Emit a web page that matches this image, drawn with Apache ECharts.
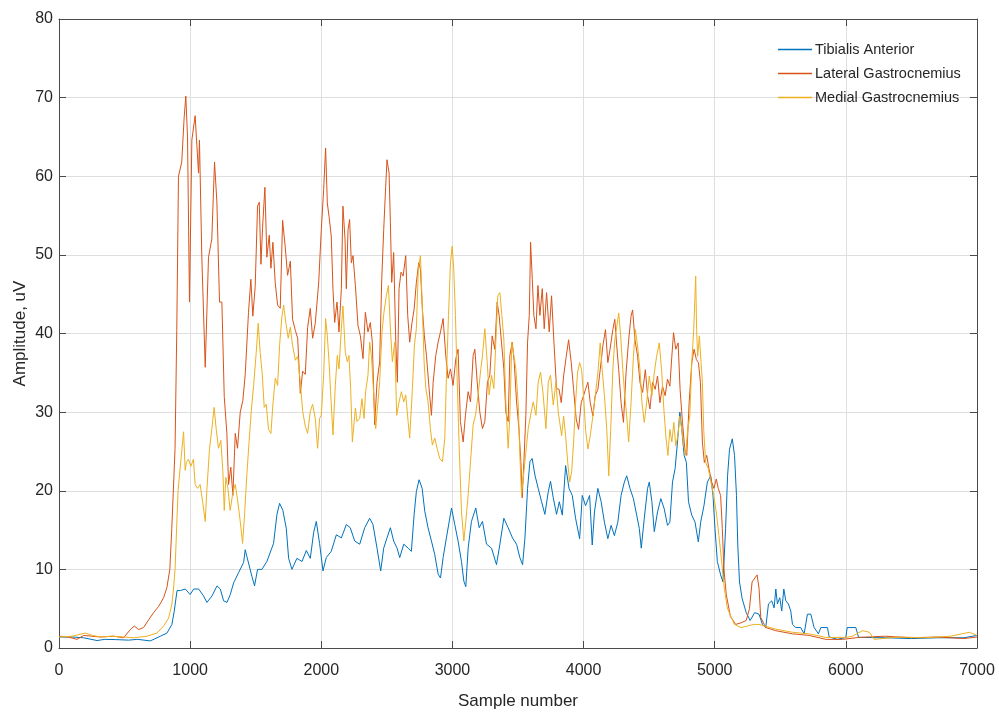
<!DOCTYPE html>
<html>
<head>
<meta charset="utf-8">
<script src="https://cdn.jsdelivr.net/npm/echarts@6/dist/echarts.min.js"></script>
<style>
  html, body { margin: 0; padding: 0; background: #fff; }
  #chart { width: 999px; height: 715px; }
</style>
</head>
<body>
<div id="chart"></div>
<script>
// EMG envelopes of three lower-leg muscles, sampled by sample index
const seriesNames = ['Tibialis Anterior', 'Lateral Gastrocnemius', 'Medial Gastrocnemius'];
const xTicks = [0, 1000, 2000, 3000, 4000, 5000, 6000, 7000];
const yTicks = [0, 10, 20, 30, 40, 50, 60, 70, 80];

// Tibialis Anterior: [sample, amplitude]
const tibialisAnterior = [[0,1.4],[100,1.4],[187,1.3],[290,0.95],[350,1.1],[430,1.07],[530,1.0],[600,1.1],[696,0.9],[773,1.5],[823,1.9],[861,3],[879,4.7],[900,7.3],[925,7.3],[963,7.5],[1000,6.8],[1027,7.5],[1065,7.5],[1103,6.6],[1128,5.8],[1166,6.6],[1205,7.9],[1230,7.5],[1255,6],[1281,5.8],[1306,6.8],[1332,8.3],[1370,9.6],[1408,10.9],[1420,12.5],[1433,11.6],[1471,9.1],[1491,7.9],[1514,10],[1547,10],[1585,11],[1636,13.3],[1662,17],[1682,18.4],[1707,17.5],[1733,15.2],[1751,11.4],[1776,10],[1814,11.4],[1853,11],[1886,12.4],[1916,11.4],[1942,14.7],[1962,16.1],[1987,13.3],[2013,9.8],[2038,11.5],[2076,12.3],[2115,14.4],[2153,14],[2191,15.7],[2221,15.3],[2255,13.6],[2293,13.2],[2331,15.3],[2369,16.5],[2394,15.7],[2425,12.7],[2453,9.8],[2476,12.7],[2501,14],[2527,15.3],[2552,13.6],[2578,12.7],[2598,11.5],[2629,13.2],[2662,12.7],[2687,12.3],[2708,17],[2725,19.9],[2746,21.4],[2769,20.3],[2789,17.4],[2814,15.3],[2840,13.6],[2865,11.9],[2891,9.4],[2909,8.9],[2929,11.5],[2954,14],[2993,17.8],[3018,15.7],[3043,13.6],[3069,11],[3087,8.5],[3102,7.8],[3120,12.7],[3145,16.1],[3178,17.8],[3204,15.3],[3229,16.1],[3260,13.2],[3298,12.7],[3336,10.6],[3362,13.2],[3392,16.5],[3425,15.3],[3458,14],[3489,13.2],[3514,11.5],[3535,10.6],[3553,14],[3573,20.3],[3591,23.7],[3608,24.1],[3629,22],[3654,20.3],[3680,18.6],[3705,17],[3731,19.9],[3748,21.2],[3769,19.1],[3794,17],[3815,18.6],[3838,16.9],[3863,23.2],[3889,20.3],[3914,19.4],[3939,16.5],[3970,13.9],[3990,19.4],[4015,18.1],[4046,19.4],[4066,13.1],[4083,17.3],[4109,20.3],[4134,18.6],[4159,16],[4185,13.9],[4210,15.6],[4235,14.3],[4261,16],[4286,19.4],[4311,21.1],[4329,21.9],[4354,20.3],[4380,19],[4405,16.9],[4425,15.2],[4440,12.7],[4463,16.5],[4488,20.3],[4501,21.1],[4521,18.6],[4539,14.8],[4564,17.3],[4589,19],[4615,17.7],[4640,15.6],[4658,16],[4678,21.1],[4698,22.8],[4716,26.2],[4734,30],[4749,27.8],[4767,24.5],[4784,23.6],[4800,18.6],[4825,16.9],[4850,16],[4875,13.5],[4893,16],[4918,18.1],[4944,21.1],[4969,21.9],[4987,19.4],[5002,15.2],[5020,11],[5045,9.3],[5063,8.4],[5083,15.2],[5098,21.9],[5113,25.3],[5134,26.6],[5151,24.5],[5166,19.4],[5176,13.1],[5189,8.4],[5209,6.3],[5240,4.5],[5270,3.5],[5305,4.5],[5338,4.3],[5364,3],[5389,2.6],[5410,5.6],[5435,6],[5453,5.1],[5466,7.5],[5478,5.6],[5496,6.4],[5511,4.7],[5527,7.5],[5542,6],[5562,5.6],[5580,4.7],[5593,3],[5618,2.6],[5656,2.6],[5682,1.8],[5707,4.3],[5733,4.3],[5758,2.6],[5791,1.8],[5809,2.6],[5860,2.6],[5873,1.4],[5936,1.1],[6000,1.35],[6010,2.6],[6076,2.6],[6097,1.35],[6300,1.3],[6500,1.2],[6700,1.3],[6900,1.3],[7000,1.6]];

// Lateral Gastrocnemius: [sample, amplitude]
const lateralGastrocnemius = [[0,1.5],[70,1.4],[137,1.1],[188,1.6],[250,1.5],[315,1.4],[417,1.5],[493,1.3],[544,2.35],[574,2.8],[607,2.35],[645,2.6],[684,3.6],[722,4.5],[760,5.3],[798,6.4],[823,7.7],[845,10],[860,15.2],[885,25.4],[898,40.4],[911,60],[936,61.8],[954,67.4],[967,70.2],[980,65],[995,44],[1013,64.6],[1038,67.7],[1051,64],[1064,60.4],[1071,64.6],[1089,49.7],[1115,35.7],[1140,49.7],[1165,52],[1186,61.8],[1204,56.7],[1224,44],[1242,44],[1260,32],[1280,27.3],[1293,20.8],[1310,23],[1326,19.4],[1344,27.3],[1361,25.4],[1382,30],[1402,31.5],[1420,34.8],[1445,42.7],[1463,46.9],[1478,42.2],[1496,46],[1514,56.2],[1527,56.7],[1540,48.8],[1552,53.4],[1570,58.6],[1585,49.7],[1603,52.5],[1616,48.3],[1631,51.6],[1649,46.4],[1667,43.6],[1687,43.2],[1705,54.4],[1725,51],[1743,47.4],[1764,49.2],[1781,41.8],[1802,40.4],[1820,39.4],[1840,32.4],[1858,35.2],[1878,34.8],[1896,40.8],[1916,43.2],[1934,39.4],[1954,41.3],[1980,46.4],[2000,53.2],[2018,58.3],[2033,63.6],[2046,56.6],[2059,54.9],[2076,52.4],[2089,45.7],[2102,41.4],[2120,44],[2135,40.2],[2153,45.7],[2165,56.2],[2181,52],[2191,45.7],[2204,53.2],[2216,54.5],[2229,49],[2242,49.9],[2260,46.1],[2280,41],[2298,39.7],[2318,36.8],[2336,42.7],[2356,40.2],[2374,41.4],[2389,38.9],[2407,28.4],[2425,33.8],[2445,36.4],[2461,46.9],[2476,53.2],[2491,58.7],[2501,62.1],[2517,60.4],[2527,54.1],[2537,46.5],[2552,50.3],[2568,38.9],[2580,33.8],[2593,45.7],[2608,47.8],[2624,47.3],[2644,49.9],[2659,42.3],[2674,38.9],[2692,41.4],[2708,43.1],[2725,46.5],[2743,49],[2756,48.2],[2771,43.1],[2786,39.7],[2802,37.2],[2822,33],[2840,29.6],[2853,33.8],[2873,37.2],[2891,38.9],[2909,40.2],[2929,41.9],[2949,37.2],[2967,34.3],[2985,35.5],[3005,33.4],[3026,36.8],[3043,38],[3061,28.8],[3082,26.2],[3099,29.6],[3120,32.6],[3138,31.3],[3158,37.2],[3171,38],[3189,33.8],[3209,30],[3229,27.9],[3247,28.8],[3267,33.8],[3285,34.7],[3303,39.7],[3323,38],[3341,44],[3356,42.3],[3374,38.9],[3392,35.5],[3407,30],[3425,28.8],[3438,37.2],[3456,38.9],[3471,36.4],[3489,31.3],[3507,27.9],[3522,23.7],[3532,19.1],[3545,23.7],[3560,29.6],[3573,38.9],[3586,42.3],[3596,51.6],[3609,46.9],[3621,42.3],[3637,40.6],[3652,46.1],[3667,42.3],[3685,45.7],[3700,40.6],[3718,45.2],[3738,40.2],[3756,44.8],[3774,38.9],[3794,33],[3813,32.9],[3830,31.2],[3848,34.6],[3868,37.1],[3886,39.2],[3906,36.3],[3924,32.9],[3944,29.1],[3962,27.8],[3982,31.2],[4000,32.1],[4015,32.9],[4033,33.8],[4051,31.2],[4071,29.5],[4089,32.1],[4109,32.9],[4127,35.4],[4147,38.4],[4167,40.5],[4185,36.3],[4202,38],[4223,40.5],[4238,41.8],[4253,38.4],[4268,35.4],[4286,31.2],[4304,28.7],[4324,35],[4344,39.2],[4362,42.2],[4374,43],[4392,39.2],[4412,37.1],[4430,33.8],[4450,32.5],[4471,35.4],[4488,32.1],[4506,30.4],[4526,33.8],[4546,32.9],[4564,34.6],[4582,31.2],[4602,33.3],[4622,32.1],[4640,34.2],[4658,33.3],[4673,37.1],[4686,40.1],[4703,38],[4721,38.8],[4736,32.9],[4754,28.7],[4772,25.3],[4787,24.5],[4805,31.2],[4825,36.3],[4843,38],[4860,36.7],[4876,36.3],[4891,33.8],[4906,26.2],[4921,23.6],[4939,24.5],[4956,22.8],[4977,21.1],[4994,20.3],[5012,21.5],[5027,20.3],[5045,19.4],[5058,15.2],[5070,10.1],[5088,6.8],[5120,4],[5160,3],[5200,3.2],[5240,3.5],[5265,5],[5285,8.4],[5323,9.3],[5338,7.6],[5351,3.9],[5389,2.6],[5466,2.2],[5593,1.8],[5720,1.6],[5847,1.1],[5975,1.1],[6102,1.35],[6300,1.5],[6500,1.3],[6700,1.4],[6900,1.2],[7000,1.4]];

// Medial Gastrocnemius: [sample, amplitude]
const medialGastrocnemius = [[0,1.4],[100,1.5],[200,1.9],[255,1.6],[315,1.4],[400,1.5],[500,1.4],[569,1.3],[671,1.5],[747,1.9],[798,2.8],[836,3.8],[861,5.6],[873,7.5],[885,10],[908,20],[930,24],[950,27.5],[962,22.6],[972,23.6],[987,24],[1005,23.1],[1025,24],[1038,20.8],[1056,20.3],[1076,20.8],[1097,18.4],[1115,16.1],[1127,20],[1148,25.4],[1165,27.8],[1183,30.6],[1199,27.8],[1216,25.4],[1234,26.4],[1249,22.6],[1260,17.5],[1272,21.7],[1288,20.3],[1305,17.5],[1326,19.8],[1344,20.8],[1361,18.9],[1382,16.1],[1400,13.3],[1415,17],[1433,22.2],[1450,26.4],[1466,30.1],[1484,33.4],[1504,37.6],[1519,41.3],[1534,37.6],[1550,34.8],[1565,30.6],[1580,31],[1598,27.8],[1616,27.3],[1631,31],[1649,34.3],[1667,33.4],[1682,38.5],[1700,42.2],[1713,43.6],[1730,41.3],[1748,39.4],[1764,40.8],[1781,38.5],[1802,36.6],[1820,37.1],[1840,33.8],[1858,30.1],[1878,28.2],[1896,27.3],[1916,30.1],[1934,31],[1954,29.2],[1972,25.4],[1987,29.2],[2000,29.6],[2018,34.7],[2033,41.9],[2046,39.7],[2059,36.4],[2071,32.6],[2089,27.1],[2107,33.4],[2122,37.2],[2135,35.5],[2153,40.6],[2165,43.5],[2183,37.6],[2199,36.4],[2211,37.2],[2224,33],[2237,26.2],[2260,30.5],[2272,28.8],[2293,29.2],[2310,31.7],[2326,29.2],[2338,32.6],[2356,34.7],[2369,38.9],[2382,37.2],[2400,32.2],[2415,27.9],[2430,30.9],[2445,33.8],[2463,40.2],[2478,42.7],[2496,44.8],[2512,46.1],[2527,40.6],[2542,36.4],[2560,38.9],[2575,29.6],[2593,31.3],[2611,32.6],[2629,31.3],[2644,32.2],[2662,28.8],[2674,26.7],[2695,33],[2710,38.5],[2725,40.6],[2740,48.2],[2756,49.9],[2771,43.1],[2784,36.4],[2797,33],[2814,31.3],[2832,27.9],[2847,25.8],[2865,26.7],[2883,25.4],[2903,24.1],[2924,23.7],[2942,26.7],[2954,34.3],[2970,42.3],[2985,49],[2998,51.1],[3010,48.2],[3023,42.3],[3036,34.3],[3051,25.8],[3069,17.4],[3087,13.6],[3102,16.1],[3120,19.5],[3138,23.7],[3158,28.4],[3176,29.6],[3196,32.2],[3214,35.1],[3229,37.2],[3247,40.6],[3265,36.4],[3280,32.2],[3298,34.7],[3316,33],[3331,38.9],[3346,44.8],[3362,45.2],[3377,42.3],[3392,39.3],[3407,31.3],[3425,25.4],[3438,29.6],[3453,38.9],[3468,37.2],[3484,35.5],[3502,30.9],[3514,24.6],[3527,19.5],[3540,21.6],[3558,24.6],[3578,27.9],[3596,29.6],[3616,31.3],[3637,29.6],[3654,33.8],[3672,35.1],[3692,32.2],[3713,27.9],[3731,33.8],[3748,34.7],[3769,30.9],[3789,33.8],[3807,30],[3818,28.7],[3833,27],[3848,29.5],[3863,27],[3879,23.6],[3894,21.1],[3909,22.4],[3924,26.2],[3939,31.2],[3954,35],[3970,36.3],[3985,35.4],[4000,32.1],[4015,27.8],[4033,25.3],[4051,27],[4071,29.5],[4089,32.1],[4109,35],[4127,38.8],[4142,35.4],[4159,32.1],[4177,27.8],[4192,21.9],[4207,27.8],[4223,35.4],[4238,39.2],[4253,40.9],[4268,42.6],[4283,39.7],[4299,35.4],[4314,32.1],[4329,29.5],[4344,26.2],[4362,31.2],[4380,37.1],[4395,40.5],[4412,38.4],[4430,35.4],[4445,31.2],[4463,28.7],[4481,31.2],[4501,34.6],[4521,32.1],[4539,35],[4557,37.1],[4577,38.8],[4595,35.4],[4612,30.4],[4627,27],[4643,24.5],[4658,27.8],[4673,26.2],[4688,28.7],[4703,25.7],[4719,27],[4734,29.5],[4749,27.8],[4764,25.7],[4779,24.5],[4794,27.8],[4810,29.5],[4825,36.3],[4840,40.5],[4855,47.3],[4862,40.5],[4870,37.1],[4883,39.7],[4896,36.3],[4906,33.8],[4916,27.8],[4931,23.6],[4951,22.8],[4972,21.1],[4992,19.4],[5012,17.3],[5032,14.3],[5053,11],[5073,7.6],[5096,5.1],[5150,3],[5200,2.6],[5250,2.8],[5300,3],[5338,3],[5466,2.4],[5593,2],[5720,1.8],[5847,1.35],[6000,1.35],[6050,1.5],[6127,2.2],[6180,2],[6216,1.1],[6400,1.4],[6600,1.3],[6800,1.5],[6942,2],[7000,1.6]];

const colors = ['#0072BD', '#D95319', '#EDB120'];
const seriesData = [tibialisAnterior, lateralGastrocnemius, medialGastrocnemius];

const axisColor = '#4a4a4a';
const textColor = '#262626';
const fontFamily = '"Liberation Sans", Arial, Helvetica, sans-serif';

const chart = echarts.init(document.getElementById('chart'), null, { renderer: 'canvas' });

// plain integer tick labels, no thousands separator
const plainNumber = (v) => String(v);
const tickLabel = { color: textColor, fontSize: 16, fontFamily: fontFamily, formatter: plainNumber };

const option = {
  animation: false,
  backgroundColor: '#ffffff',
  color: colors,
  grid: { left: 59, right: 22, top: 19, bottom: 65, containLabel: false },
  legend: {
    data: seriesNames,
    orient: 'vertical',
    left: 773,
    top: 37,
    icon: 'rect',
    itemWidth: 34,
    itemHeight: 1.5,
    itemGap: 9,
    textStyle: { color: textColor, fontSize: 14.5, fontFamily: fontFamily, padding: [0, 0, 0, -2], lineHeight: 15 }
  },
  xAxis: [
    {
      type: 'value', min: xTicks[0], max: xTicks[xTicks.length - 1], interval: 1000,
      name: 'Sample number', nameLocation: 'middle', nameGap: 45, nameMoveOverlap: false,
      nameTextStyle: { color: textColor, fontSize: 17, fontFamily: fontFamily },
      axisLine: { show: true, lineStyle: { color: axisColor, width: 1 } },
      axisTick: { show: true, inside: true, length: 7, lineStyle: { color: axisColor } },
      axisLabel: Object.assign({ margin: 15 }, tickLabel),
      splitLine: { show: true, lineStyle: { color: '#dfdfdf', width: 1 } }
    },
    {
      type: 'value', position: 'top', min: xTicks[0], max: xTicks[xTicks.length - 1], interval: 1000,
      axisLine: { show: true, onZero: false, lineStyle: { color: axisColor, width: 1 } },
      axisTick: { show: true, inside: true, length: 7, lineStyle: { color: axisColor } },
      axisLabel: { show: false }, splitLine: { show: false }
    }
  ],
  yAxis: [
    {
      type: 'value', min: yTicks[0], max: yTicks[yTicks.length - 1], interval: 10,
      name: 'Amplitude, uV', nameLocation: 'middle', nameGap: 30, nameMoveOverlap: false,
      nameTextStyle: { color: textColor, fontSize: 17, fontFamily: fontFamily },
      axisLine: { show: true, lineStyle: { color: axisColor, width: 1 } },
      axisTick: { show: true, inside: true, length: 7, lineStyle: { color: axisColor } },
      axisLabel: Object.assign({ margin: 6 }, tickLabel),
      splitLine: { show: true, lineStyle: { color: '#dfdfdf', width: 1 } }
    },
    {
      type: 'value', position: 'right', min: yTicks[0], max: yTicks[yTicks.length - 1], interval: 10,
      axisLine: { show: true, onZero: false, lineStyle: { color: axisColor, width: 1 } },
      axisTick: { show: true, inside: true, length: 7, lineStyle: { color: axisColor } },
      axisLabel: { show: false }, splitLine: { show: false }
    }
  ],
  series: seriesNames.map((name, i) => ({
    name: name,
    type: 'line',
    xAxisIndex: 0,
    yAxisIndex: 0,
    data: seriesData[i],
    showSymbol: false,
    symbol: 'none',
    lineStyle: { width: 1, color: colors[i] },
    itemStyle: { color: colors[i] }
  }))
};

chart.setOption(option);
</script>
</body>
</html>
